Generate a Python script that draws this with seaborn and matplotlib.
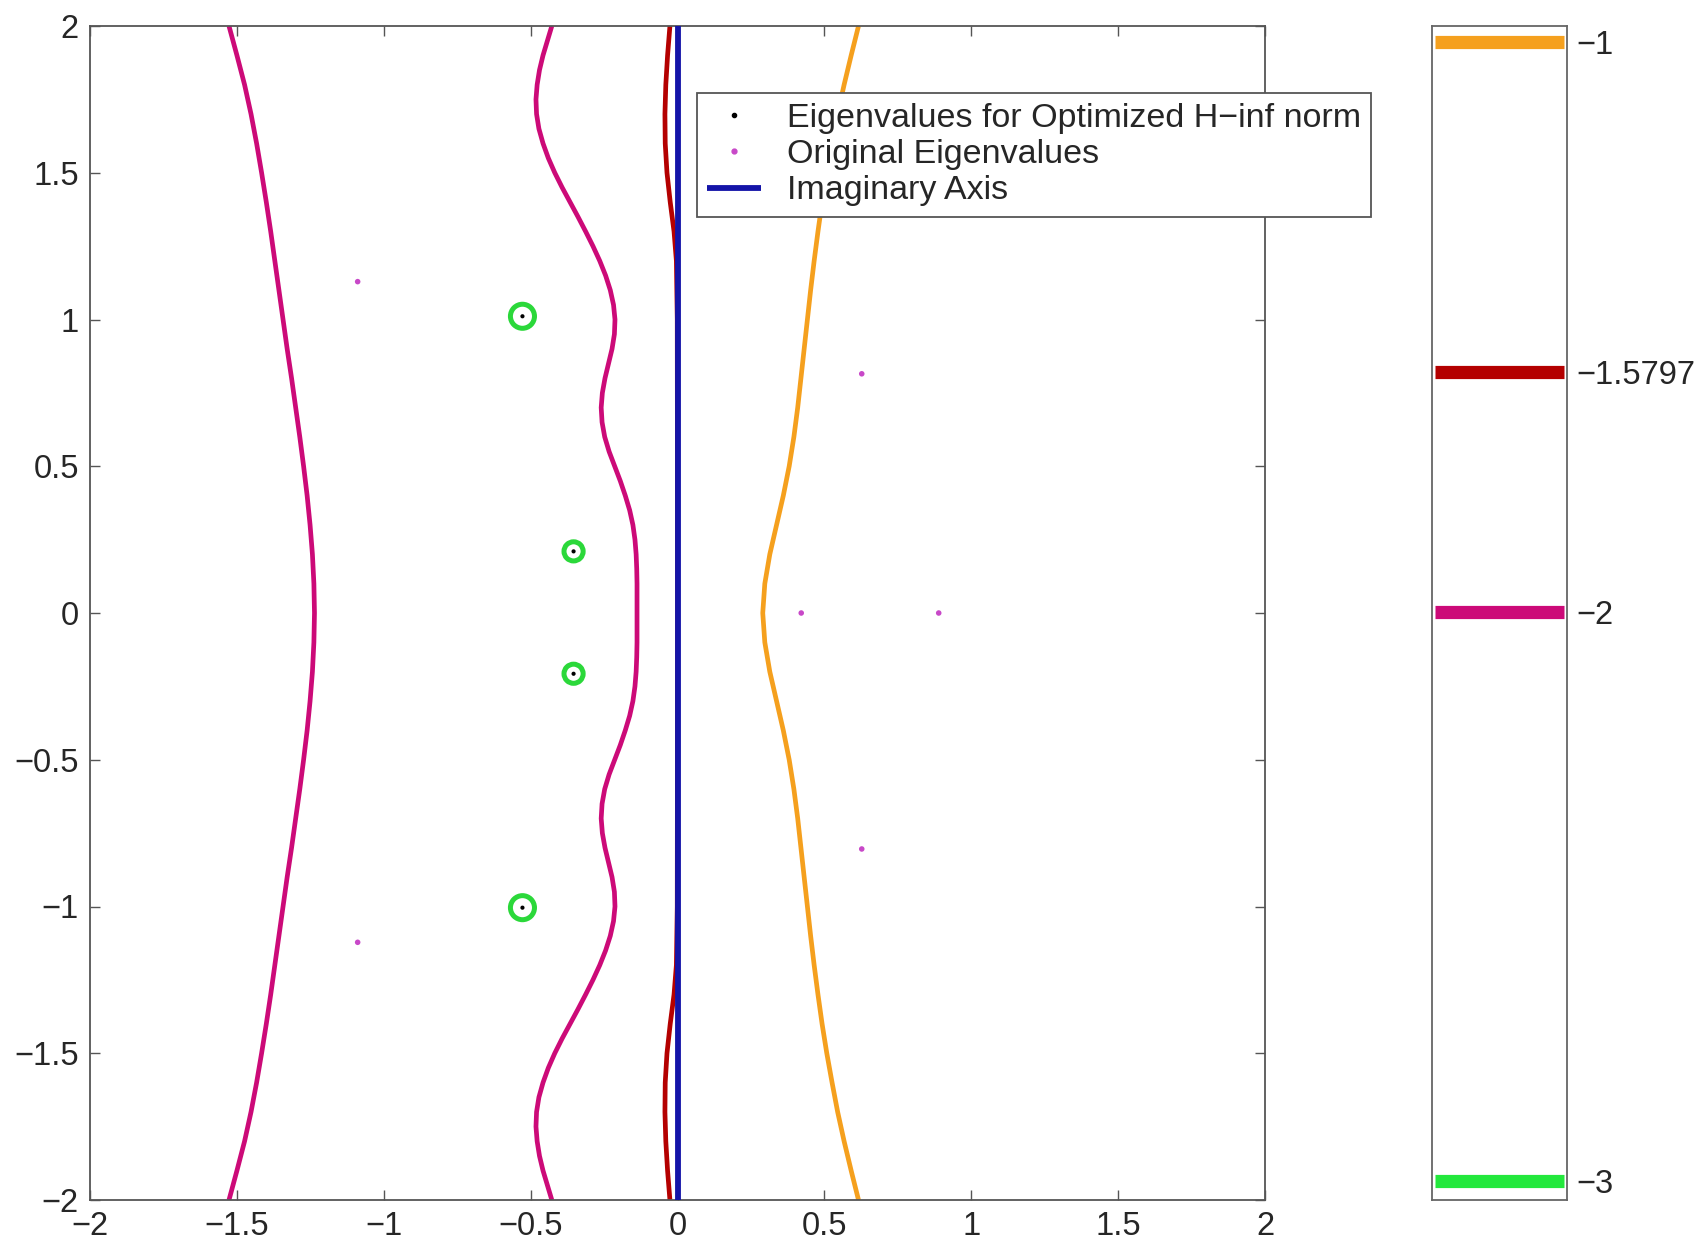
import matplotlib
matplotlib.use("Agg")
import matplotlib.pyplot as plt
from matplotlib.lines import Line2D
import pandas as pd
import seaborn as sns

# Pseudospectral contour levels (log10 of epsilon) and their colours
levels = [-1.0, -1.5797, -2.0, -3.0]
level_labels = ["\u22121", "\u22121.5797", "\u22122", "\u22123"]
level_colors = ["#F5A01E", "#B40000", "#CC0A78", "#22E83C"]
ring_color = "#2BD83A"

# Level -1 contour (right of the imaginary axis)
orange_y = [2.0, 1.9, 1.8, 1.7, 1.6, 1.5, 1.4, 1.3, 1.2, 1.1, 1.0, 0.9, 0.8, 0.7, 0.6,
            0.5, 0.4, 0.3, 0.2, 0.1, 0.0,
            -0.1, -0.2, -0.3, -0.4, -0.5, -0.6, -0.7, -0.8, -0.9, -1.0, -1.1, -1.2,
            -1.3, -1.4, -1.5, -1.6, -1.7, -1.8, -1.9, -2.0]
orange_x = [0.616, 0.591, 0.567, 0.545, 0.526, 0.508, 0.492, 0.478, 0.465, 0.453, 0.442,
            0.431, 0.420, 0.409, 0.396, 0.380, 0.360, 0.337, 0.314, 0.297, 0.290,
            0.297, 0.314, 0.337, 0.360, 0.380, 0.396, 0.409, 0.420, 0.431, 0.442, 0.453,
            0.465, 0.478, 0.492, 0.508, 0.526, 0.545, 0.567, 0.591, 0.616]

# Level -1.5797 contour (hugging the imaginary axis)
red_y = [2.0, 1.90, 1.80, 1.70, 1.60, 1.50, 1.40, 1.30, 1.20, 1.00, 0.0,
         -1.00, -1.20, -1.30, -1.40, -1.50, -1.60, -1.70, -1.80, -1.90, -2.0]
red_x = [-0.026, -0.034, -0.040, -0.043, -0.042, -0.036, -0.025, -0.012, -0.004, -0.001, 0.0,
         -0.001, -0.004, -0.012, -0.025, -0.036, -0.042, -0.043, -0.040, -0.034, -0.026]

# Level -2 contour, outer left branch
left_y = [2.0, 1.9, 1.8, 1.7, 1.6, 1.5, 1.4, 1.3, 1.2, 1.1, 1.0, 0.9, 0.8, 0.7, 0.6,
          0.5, 0.4, 0.3, 0.2, 0.1, 0.0,
          -0.1, -0.2, -0.3, -0.4, -0.5, -0.6, -0.7, -0.8, -0.9, -1.0, -1.1, -1.2,
          -1.3, -1.4, -1.5, -1.6, -1.7, -1.8, -1.9, -2.0]
left_x = [-1.527, -1.500, -1.474, -1.452, -1.433, -1.416, -1.400, -1.385, -1.371, -1.357,
          -1.343, -1.329, -1.314, -1.300, -1.286, -1.273, -1.261, -1.251, -1.243, -1.238,
          -1.236,
          -1.238, -1.243, -1.251, -1.261, -1.273, -1.286, -1.300, -1.314, -1.329, -1.343,
          -1.357, -1.371, -1.385, -1.400, -1.416, -1.433, -1.452, -1.474, -1.500, -1.527]

# Level -2 contour, inner wavy branch
inner_y = [2.0, 1.95, 1.9, 1.85, 1.8, 1.75, 1.7, 1.65, 1.6, 1.55, 1.5, 1.45, 1.4, 1.35,
           1.3, 1.25, 1.2, 1.15, 1.1, 1.05, 1.0, 0.95, 0.9, 0.85, 0.8, 0.75, 0.7, 0.65,
           0.6, 0.55, 0.5, 0.45, 0.4, 0.35, 0.3, 0.25, 0.2, 0.15, 0.1, 0.05, 0.0,
           -0.05, -0.1, -0.15, -0.2, -0.25, -0.3, -0.35, -0.4, -0.45, -0.5, -0.55, -0.6,
           -0.65, -0.7, -0.75, -0.8, -0.85, -0.9, -0.95, -1.0, -1.05, -1.1, -1.15, -1.2,
           -1.25, -1.3, -1.35, -1.4, -1.45, -1.5, -1.55, -1.6, -1.65, -1.7, -1.75, -1.8,
           -1.85, -1.9, -1.95, -2.0]
inner_x = [-0.428, -0.443, -0.458, -0.470, -0.478, -0.482, -0.480, -0.472, -0.458, -0.440,
           -0.418, -0.393, -0.366, -0.339, -0.313, -0.288, -0.265, -0.245, -0.229, -0.218,
           -0.213, -0.215, -0.223, -0.235, -0.247, -0.256, -0.260, -0.257, -0.248, -0.233,
           -0.214, -0.195, -0.178, -0.163, -0.152, -0.145, -0.141, -0.139, -0.138, -0.138,
           -0.138,
           -0.138, -0.138, -0.139, -0.141, -0.145, -0.152, -0.163, -0.178, -0.195, -0.214,
           -0.233, -0.248, -0.257, -0.260, -0.256, -0.247, -0.235, -0.223, -0.215, -0.213,
           -0.218, -0.229, -0.245, -0.265, -0.288, -0.313, -0.339, -0.366, -0.393, -0.418,
           -0.440, -0.458, -0.472, -0.480, -0.482, -0.478, -0.470, -0.458, -0.443, -0.428]

# Eigenvalues after H-infinity optimisation (each enclosed by a level -3 ring)
opt_re = [-0.528, -0.354, -0.354, -0.528]
opt_im = [1.011, 0.210, -0.207, -1.004]
ring_size = [300, 190, 190, 300]

# Original eigenvalues
orig_re = [-1.089, -1.089, 0.627, 0.627, 0.421, 0.889]
orig_im = [1.129, -1.122, 0.815, -0.804, 0.0, 0.0]

# Imaginary axis
axis_re = [0.0, 0.0]
axis_im = [-2.0, 2.0]

tick_vals = [-2, -1.5, -1, -0.5, 0, 0.5, 1, 1.5, 2]
tick_text = ["\u22122", "\u22121.5", "\u22121", "\u22120.5", "0", "0.5", "1", "1.5", "2"]

sns.set_theme(style="white")
plt.rcParams["font.family"] = ["Liberation Sans", "DejaVu Sans"]
plt.rcParams["axes.edgecolor"] = "#555555"
plt.rcParams["axes.linewidth"] = 1.3
plt.rcParams["lines.solid_joinstyle"] = "round"
plt.rcParams["lines.solid_capstyle"] = "butt"

FS = 23.5
LEG_FS = 24.5
fig = plt.figure(figsize=(16.99, 12.5), dpi=100)
ax = fig.add_axes([0.053, 0.040, 0.6916, 0.9392])
cax = fig.add_axes([0.8428, 0.040, 0.0795, 0.9392])

LW = 3.4
curves = [
    (orange_x, orange_y, level_colors[0]),
    (red_x, red_y, level_colors[1]),
    (left_x, left_y, level_colors[2]),
    (inner_x, inner_y, level_colors[2]),
]
for cx, cy, col in curves:
    df = pd.DataFrame({"re": cx, "im": cy})
    sns.lineplot(data=df, x="re", y="im", sort=False, estimator=None, color=col,
                 linewidth=LW, ax=ax, legend=False, zorder=2)

sns.lineplot(x=axis_re, y=axis_im, sort=False, estimator=None, color="#1414A8",
             linewidth=4.2, ax=ax, legend=False, zorder=3)

for re_v, im_v, s_v in zip(opt_re, opt_im, ring_size):
    sns.scatterplot(x=[re_v], y=[im_v], s=s_v, marker="o", facecolors="none",
                    edgecolors=ring_color, linewidths=3.6, ax=ax, legend=False, zorder=4)

sns.scatterplot(x=orig_re, y=orig_im, s=16, color="#C848C8", edgecolor="none",
                ax=ax, legend=False, zorder=5)
sns.scatterplot(x=opt_re, y=opt_im, s=9, color="black", edgecolor="none",
                ax=ax, legend=False, zorder=6)

ax.set_xlim(-2, 2)
ax.set_ylim(-2, 2)
ax.set_xticks(tick_vals)
ax.set_xticklabels(tick_text)
ax.set_yticks(tick_vals)
ax.set_yticklabels(tick_text)
ax.set_xlabel("")
ax.set_ylabel("")
ax.tick_params(direction="in", length=7, width=1.0, color="#555555",
               top=True, right=True, bottom=True, left=True,
               labelsize=FS, pad=8)
for sp in ax.spines.values():
    sp.set_visible(True)

handles = [
    Line2D([], [], linestyle="none", marker="o", markersize=3, color="black"),
    Line2D([], [], linestyle="none", marker="o", markersize=3.5, color="#C848C8"),
    Line2D([], [], color="#1414A8", linewidth=4.2),
]
labels = ["Eigenvalues for Optimized H\u2212inf norm", "Original Eigenvalues", "Imaginary Axis"]
leg = ax.legend(handles, labels, loc="upper left", bbox_to_anchor=(0.410, 0.9256),
                bbox_transform=fig.transFigure, borderaxespad=0, fontsize=LEG_FS,
                frameon=True, fancybox=False, shadow=False, framealpha=1,
                edgecolor="#555555", handlelength=1.6, handletextpad=0.75,
                labelspacing=0.15, borderpad=0.3)
leg.get_frame().set_linewidth(1.3)
leg.set_zorder(10)

# Colour key for the contour levels
for lev, col in zip(levels, level_colors):
    sns.lineplot(x=[0.02, 0.98], y=[lev, lev], color=col, linewidth=9.5,
                 estimator=None, ax=cax, legend=False)
cax.set_xlim(0, 1)
cax.set_ylim(-3.033, -0.972)
cax.set_xticks([])
cax.yaxis.tick_right()
cax.set_yticks(levels)
cax.set_yticklabels(level_labels)
cax.tick_params(axis="y", length=0, labelsize=FS, pad=7, left=False, right=True)
for sp in cax.spines.values():
    sp.set_visible(True)
    sp.set_color("#666666")

fig.savefig("out.png", dpi=100)
